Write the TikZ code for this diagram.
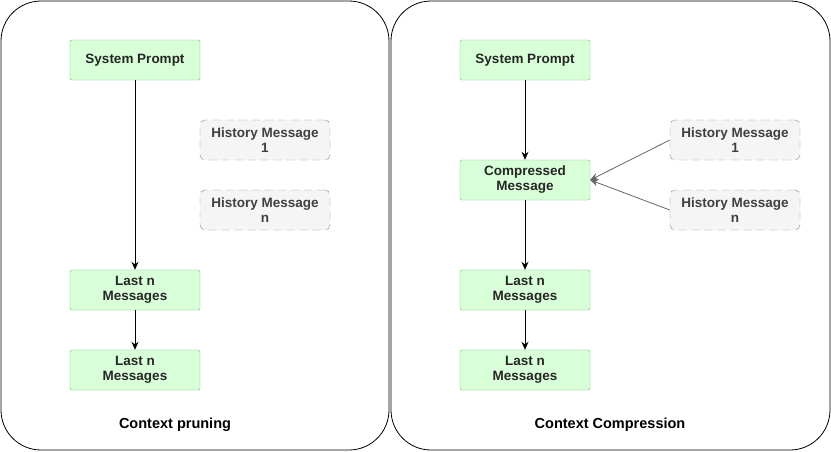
\documentclass[tikz,border=0pt]{standalone}
\usepackage{fontspec}
\setmainfont{Liberation Sans}
\usetikzlibrary{arrows.meta}
\begin{document}
\begin{tikzpicture}[x=1pt,y=-1pt,
 box/.style={draw=green!60!black!60, fill=green!15!white, rounded corners=2pt, minimum width=130pt, minimum height=40pt, inner sep=0pt, align=center, font=\fontsize{13.5}{15}\selectfont\bfseries, text=black!85},
 hist/.style={draw=black!45, dash pattern=on 8pt off 5pt, fill=black!4, rounded corners=5pt, minimum width=130pt, minimum height=40pt, inner sep=0pt, align=center, font=\fontsize{13.5}{15}\selectfont\bfseries, text=black!75},
 panel/.style={draw=black, rounded corners=40pt, line width=0.8pt},
 arr/.style={-{Stealth[length=8pt,width=7pt]}, line width=1pt},
 garr/.style={-{Stealth[length=8pt,width=7pt]}, draw=black!60, line width=0.8pt},
 title/.style={font=\fontsize{14.5}{16}\selectfont\bfseries}]
\useasboundingbox (0,0) rectangle (831,451);
\draw[panel] (1,1) rectangle (389,450);
\draw[panel] (391,1) rectangle (830,450);
% left
\node[box] (sp1) at (135,60) {System Prompt};
\node[hist] (h11) at (265,140) {History Message\\1};
\node[hist] (h1n) at (265,210) {History Message\\n};
\node[box] (l11) at (135,290) {Last n\\Messages};
\node[box] (l12) at (135,370) {Last n\\Messages};
\draw[arr] (sp1) -- (l11);
\draw[arr] (l11) -- (l12);
\node[title] (t1) at (175,425) {Context pruning};
% right
\node[box] (sp2) at (525,60) {System Prompt};
\node[box] (cm) at (525,180) {Compressed\\Message};
\node[hist] (h21) at (735,140) {History Message\\1};
\node[hist] (h2n) at (735,210) {History Message\\n};
\node[box] (l21) at (525,290) {Last n\\Messages};
\node[box] (l22) at (525,370) {Last n\\Messages};
\draw[arr] (sp2) -- (cm);
\draw[arr] (cm) -- (l21);
\draw[arr] (l21) -- (l22);
\draw[garr] (h21.west) -- (cm.east);
\draw[garr] (h2n.west) -- (cm.east);
\node[title] (t2) at (610,425) {Context Compression};
\end{tikzpicture}
\end{document}
